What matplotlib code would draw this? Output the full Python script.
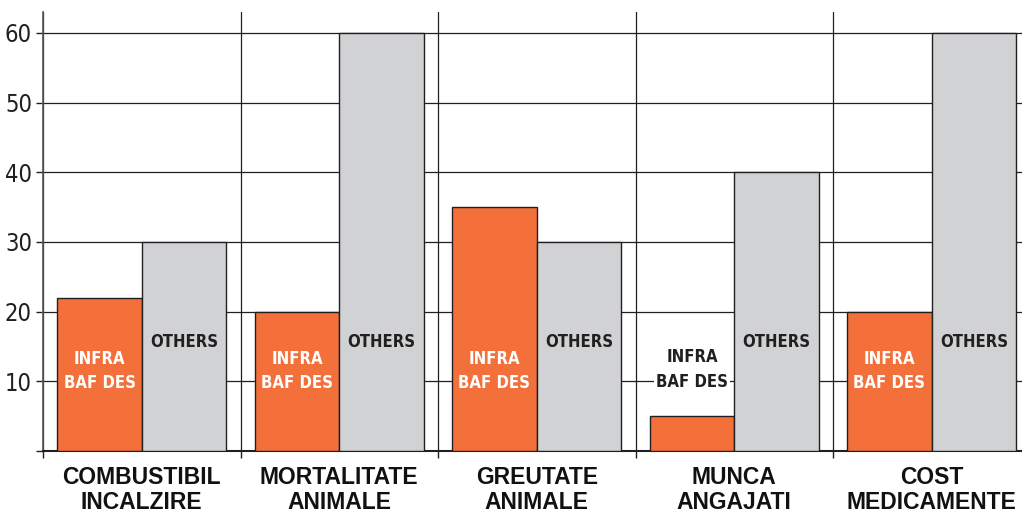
import numpy as np
import matplotlib.pyplot as plt

categories = ["COMBUSTIBIL\nINCALZIRE", "MORTALITATE\nANIMALE", "GREUTATE\nANIMALE",
              "MUNCA\nANGAJATI", "COST\nMEDICAMENTE"]
infra = [22, 20, 35, 5, 20]
others = [30, 60, 30, 40, 60]
yticks = [10, 20, 30, 40, 50, 60]

orange = '#F3703A'
grey = '#D1D2D4'
dark = '#231F20'
narrow = ['DejaVu Sans']

fig = plt.figure(figsize=(10.22, 5.13), dpi=100)
ax = fig.add_axes([0.0421, 0.1209, 0.9579, 0.8557])

x = np.arange(len(categories)) + 0.5
w = 0.428
ax.bar(x - w / 2, infra, w, color=orange, edgecolor=dark, linewidth=1.0, zorder=3)
ax.bar(x + w / 2, others, w, color=grey, edgecolor=dark, linewidth=1.0, zorder=3)

# bar labels: white inside tall orange bars, boxed above the short one
for i in range(len(categories)):
    if infra[i] >= 15:
        ax.text(x[i] - w / 2, 11.5, "INFRA\nBAF DES", ha='center', va='center', color='white',
                fontsize=12, fontweight='bold', family=narrow, fontstretch='condensed',
                linespacing=1.45, zorder=4)
    else:
        ax.text(x[i] - w / 2, infra[i] + 6.7, "INFRA\nBAF DES", ha='center', va='center',
                color=dark, fontsize=12, fontweight='bold', family=narrow, fontstretch='condensed',
                linespacing=1.45, zorder=4, bbox=dict(facecolor='white', edgecolor='none', pad=1.5))
    ax.text(x[i] + w / 2, 15.6, "OTHERS", ha='center', va='center', color=dark,
            fontsize=12, fontweight='bold', family=narrow, fontstretch='condensed', zorder=4)
    ax.text(x[i], -0.035, categories[i], transform=ax.get_xaxis_transform(), ha='center',
            va='top', fontsize=16.5, fontweight='bold', family=['Liberation Sans', 'DejaVu Sans'],
            color='#111111', linespacing=1.1)

ax.set_xlim(0, 4.957)
ax.set_ylim(0, 63)
ax.set_yticks([0] + yticks)
ax.set_yticklabels([''] + [str(v) for v in yticks], family=narrow, fontstretch='condensed',
                   fontsize=17, color=dark)
ax.set_xticks(np.arange(len(categories)))
ax.set_xticklabels([])
ax.tick_params(axis='both', direction='out', length=5, width=1, color=dark, pad=3)
ax.grid(True, color=dark, linewidth=0.9, zorder=1)
ax.set_axisbelow(True)

for s in ['top', 'right']:
    ax.spines[s].set_visible(False)
ax.spines['left'].set_color('#555555')
ax.spines['left'].set_linewidth(1.2)
ax.spines['bottom'].set_color(dark)
ax.spines['bottom'].set_linewidth(1.5)

fig.savefig('out.png', dpi=100)
